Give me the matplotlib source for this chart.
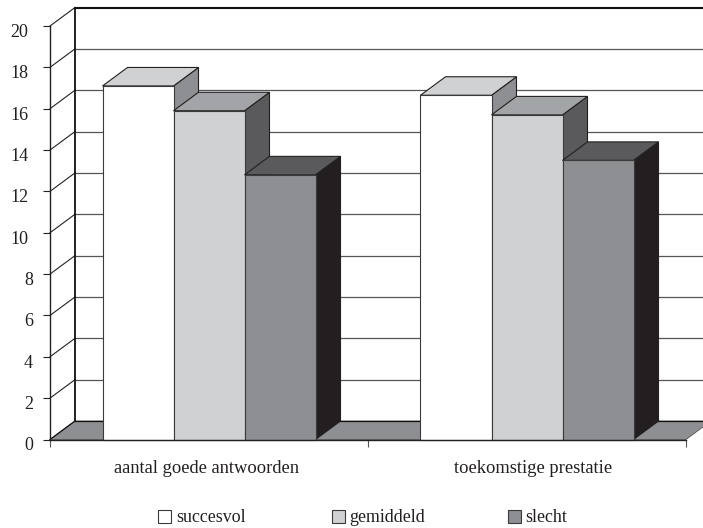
import matplotlib
matplotlib.use("Agg")
import matplotlib.pyplot as plt
from matplotlib.patches import Polygon, Rectangle
from matplotlib.transforms import ScaledTranslation

categories = ["aantal goede antwoorden", "toekomstige prestatie"]
series_names = ["succesvol", "gemiddeld", "slecht"]
succesvol = [17.1, 16.65]
gemiddeld = [15.9, 15.7]
slecht = [12.8, 13.5]
yticks = list(range(0, 21, 2))

FW, FH = 703, 528
L, R, T, B = 50, 686, 26, 439.5
plt.rcParams["font.family"] = ["Liberation Serif", "DejaVu Serif"]
INK = "#231f20"

fig = plt.figure(figsize=(FW / 100, FH / 100), dpi=100, facecolor="white")
ax = fig.add_axes([L / FW, 1 - B / FH, (R - L) / FW, (B - T) / FH])
ax.set_xlim(0, 2)
ax.set_ylim(0, 20)
ax.patch.set_visible(False)

ux = (R - L) / 2
uy = (B - T) / 20
DX = 25 / ux      # depth offset, x units
DY = 18.5 / uy    # depth offset, y units
BW = 71 / ux      # bar width

def poly(pts, fc, ec=INK, lw=0.8, z=2):
    ax.add_patch(Polygon(pts, closed=True, facecolor=fc, edgecolor=ec, lw=lw,
                         zorder=z, clip_on=False, joinstyle="miter"))

# floor
poly([(0, 0), (2, 0), (2 + DX, DY), (DX, DY)], "#8e8f92", ec="#555555", lw=0.6, z=1)

# back wall lines and side wall diagonals
for v in yticks:
    if v == 0:
        ax.plot([DX, 2 + DX], [DY, DY], color="#111111", lw=0.9, clip_on=False, zorder=1.5)
        ax.plot([0, DX], [0, DY], color="#111111", lw=0.9, clip_on=False, zorder=1.5)
        continue
    strong = v == 20
    ax.plot([DX, 2 + DX], [v + DY, v + DY], color="#111111" if strong else "#555555",
            lw=1.5 if strong else 0.9, clip_on=False, zorder=1.5)
    ax.plot([0, DX], [v, v + DY], color="#222222", lw=0.8, clip_on=False, zorder=1.5)
ax.plot([DX, DX], [DY, 20 + DY], color="#111111", lw=1.3, clip_on=False, zorder=1.5)

# 3D bars
series = [succesvol, gemiddeld, slecht]
front = ["#ffffff", "#d0d1d3", "#8e8f92"]
top = ["#d0d1d3", "#a3a4a7", "#5a5a5c"]
side = ["#8e8f92", "#5a5a5c", "#231f20"]
for g, centre in enumerate([0.5, 1.5]):
    for s, vals in enumerate(series):
        x0 = centre - 1.5 * BW + s * BW
        x1 = x0 + BW
        h = vals[g]
        z = 3 + s
        poly([(x1, 0), (x1 + DX, DY), (x1 + DX, h + DY), (x1, h)], side[s], z=z)
        poly([(x0, h), (x1, h), (x1 + DX, h + DY), (x0 + DX, h + DY)], top[s], z=z)
        poly([(x0, 0), (x1, 0), (x1, h), (x0, h)], front[s],
             ec="#3a3a3a", lw=0.8, z=z)

# axes
for sp in ["top", "right"]:
    ax.spines[sp].set_visible(False)
for sp in ["left", "bottom"]:
    ax.spines[sp].set_color("#222222")
    ax.spines[sp].set_linewidth(1.0)
    ax.spines[sp].set_zorder(8)

ax.set_yticks(yticks)
ax.set_yticklabels([str(v) for v in yticks])
ax.set_xticks([0, 1, 2])
ax.set_xticklabels([])
ax.set_xticks([0.5, 1.5], minor=True)
ax.set_xticklabels(categories, minor=True)
ax.tick_params(axis="y", length=5.2, width=0.8, color="#222222", labelsize=13, labelcolor=INK)
ax.tick_params(axis="x", which="major", length=5.2, width=0.8, color="#555555")
ax.tick_params(axis="x", which="minor", length=0, pad=15, labelsize=13.3, labelcolor=INK)
offset = ScaledTranslation(0, -4.5 / 100, fig.dpi_scale_trans)
for tick, v in zip(ax.yaxis.get_major_ticks(), yticks):
    tick.set_pad(10.5 if v >= 10 else 7)
    tick.label1.set_transform(tick.label1.get_transform() + offset)
for tick, shift in zip(ax.xaxis.get_minor_ticks(), [-2, 6]):
    tick.label1.set_transform(tick.label1.get_transform()
                              + ScaledTranslation(shift / 100, 0, fig.dpi_scale_trans))

# legend
legend_x = [158, 331.5, 507.5]
for name, color, x in zip(series_names, front, legend_x):
    fig.add_artist(Rectangle((x / FW, 1 - 523 / FH), 13 / FW, 13 / FH,
                             transform=fig.transFigure, facecolor=color,
                             edgecolor="#3a3a3a", lw=0.8))
    fig.text((x + 18) / FW, 1 - 517 / FH, name, ha="left", va="center",
             fontsize=12.9, color=INK)

fig.savefig("out.png", dpi=100)
